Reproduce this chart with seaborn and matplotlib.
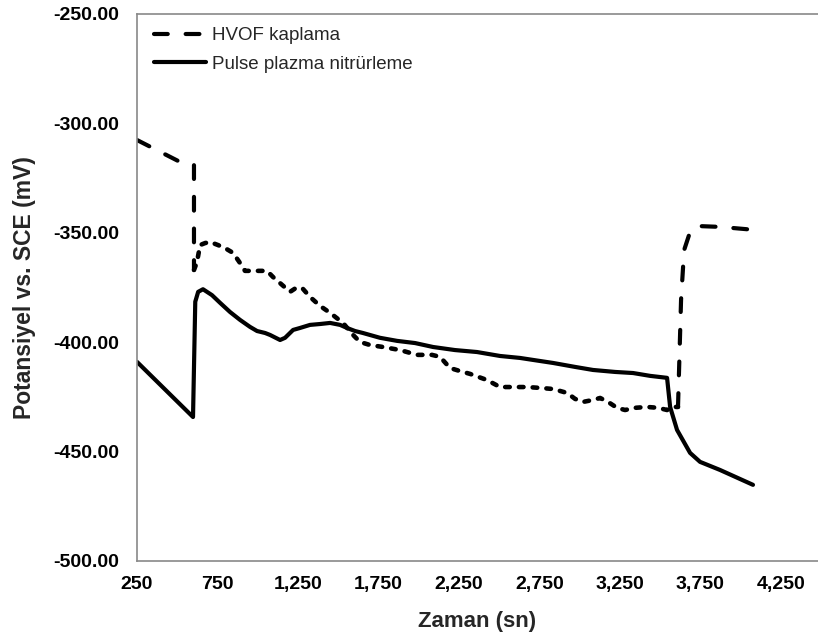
import matplotlib
matplotlib.use('Agg')
import matplotlib.pyplot as plt
import seaborn as sns
import numpy as np
import pandas as pd
from matplotlib.ticker import FuncFormatter

# HVOF kaplama (seconds / mV)
hvof_t = [250, 517, 592, 604, 604, 623, 642, 673, 704, 753, 797, 847, 890, 921,
          990, 1058, 1095, 1139, 1201, 1238, 1276, 1325, 1387, 1450, 1530, 1593,
          1636, 1698, 1779, 1885, 1990, 2083, 2133, 2195, 2257, 2320, 2425, 2506,
          2599, 2674, 2755, 2836, 2923, 2972, 3022, 3084, 3128, 3177, 3233, 3283,
          3345, 3420, 3488, 3544, 3575, 3612, 3631, 3650, 3687, 3730, 3873, 4091]
hvof_mv = [-307.6, -317.6, -318.1, -319.0, -367.0, -363.3, -355.6, -354.7, -354.2,
           -355.6, -357.0, -359.2, -363.8, -367.4, -367.4, -367.4, -370.2, -373.0,
           -377.0, -375.2, -375.2, -379.3, -383.4, -386.6, -391.2, -396.7, -399.9,
           -401.3, -402.2, -403.6, -405.8, -405.8, -406.7, -411.8, -413.2, -414.5,
           -417.3, -420.5, -420.5, -420.5, -420.9, -421.4, -423.2, -425.9, -427.3,
           -426.4, -425.5, -427.3, -430.0, -431.0, -430.0, -429.6, -430.0, -431.0,
           -429.6, -429.6, -380.6, -357.9, -349.6, -346.9, -347.3, -348.7]
# the dense middle stretch is drawn with short dashes, like the original
hvof_mid_start = 4
hvof_mid_end = 55

# Pulse plazma nitrürleme
pulse_t = [250, 598, 612, 630, 660, 716, 766, 828, 890, 952, 996, 1046, 1077, 1139,
           1170, 1220, 1263, 1325, 1387, 1450, 1512, 1555, 1605, 1654, 1760, 1866,
           1978, 2090, 2226, 2363, 2506, 2630, 2755, 2836, 2972, 3084, 3221, 3333,
           3439, 3544, 3563, 3606, 3687, 3749, 3873, 4078]
pulse_mv = [-409.0, -434.2, -381.5, -377.0, -375.8, -378.5, -382.0, -386.2, -389.8,
            -393.0, -394.9, -395.8, -396.7, -399.0, -398.0, -394.4, -393.5, -392.1,
            -391.7, -391.2, -392.1, -393.5, -394.9, -395.8, -398.0, -399.4, -400.4,
            -402.2, -403.6, -404.5, -406.3, -407.2, -408.6, -409.5, -411.3, -412.7,
            -413.6, -414.1, -415.4, -416.3, -429.6, -440.1, -450.6, -454.7, -458.4,
            -465.2]

x_ticks = [250, 750, 1250, 1750, 2250, 2750, 3250, 3750, 4250]
y_ticks = [-500, -450, -400, -350, -300, -250]

sns.set_style('white')
plt.rcParams['font.family'] = ['Liberation Sans', 'DejaVu Sans']

fig = plt.figure(figsize=(8.18, 6.39), dpi=100)
ax = fig.add_axes([0.1675, 0.1221, 0.8325, 0.856])

hvof = pd.DataFrame({'t': hvof_t, 'mv': hvof_mv})
pulse = pd.DataFrame({'t': pulse_t, 'mv': pulse_mv})

lw = 3.0
long_dash = (3.3, 4.3)
short_dash = (1.0, 2.0)

segments = [hvof.iloc[:hvof_mid_start + 1], hvof.iloc[hvof_mid_start:hvof_mid_end + 1],
            hvof.iloc[hvof_mid_end:]]
styles = [long_dash, short_dash, long_dash]
widths = [lw, lw + 0.3, lw]
for seg, dash, w in zip(segments, styles, widths):
    n0 = len(ax.lines)
    sns.lineplot(data=seg, x='t', y='mv', ax=ax, color='black', linewidth=w,
                 estimator=None, sort=False)
    ln = ax.lines[n0]
    ln.set_dashes(dash)
    ln.set_dash_capstyle('round')
hvof_line = ax.lines[0]

n0 = len(ax.lines)
sns.lineplot(data=pulse, x='t', y='mv', ax=ax, color='black', linewidth=lw,
             estimator=None, sort=False)
pulse_line = ax.lines[n0]
pulse_line.set_solid_joinstyle('round')

ax.set_xlim(250, 4482)
ax.set_ylim(-500, -250)
ax.set_xticks(x_ticks)
ax.set_yticks(y_ticks)
ax.xaxis.set_major_formatter(FuncFormatter(lambda v, p: f'{v:,.0f}'))
ax.yaxis.set_major_formatter(FuncFormatter(lambda v, p: f'{v:.2f}'))

for lab in ax.get_xticklabels() + ax.get_yticklabels():
    lab.set_fontweight('bold')
    lab.set_fontsize(14)

ax.tick_params(axis='both', direction='out', length=5, width=1, color='#898989',
               pad=8, labelcolor='black')
ax.tick_params(axis='x', pad=6)

ax.set_xlabel('Zaman (sn)', fontsize=16, fontweight='bold', labelpad=13)
ax.set_ylabel('Potansiyel vs. SCE (mV)', fontsize=16.5, fontweight='bold', labelpad=12)

for side in ['left', 'bottom', 'top']:
    ax.spines[side].set_color('#898989')
    ax.spines[side].set_linewidth(1.2)
ax.spines['right'].set_visible(False)

ax.legend([hvof_line, pulse_line], ['HVOF kaplama', 'Pulse plazma nitrürleme'],
          loc='upper left', bbox_to_anchor=(0.005, 1.0), frameon=False,
          fontsize=13.5, handlelength=2.8, handletextpad=0.3, labelspacing=0.6,
          borderaxespad=0.3)

fig.savefig('out.png', dpi=100)
